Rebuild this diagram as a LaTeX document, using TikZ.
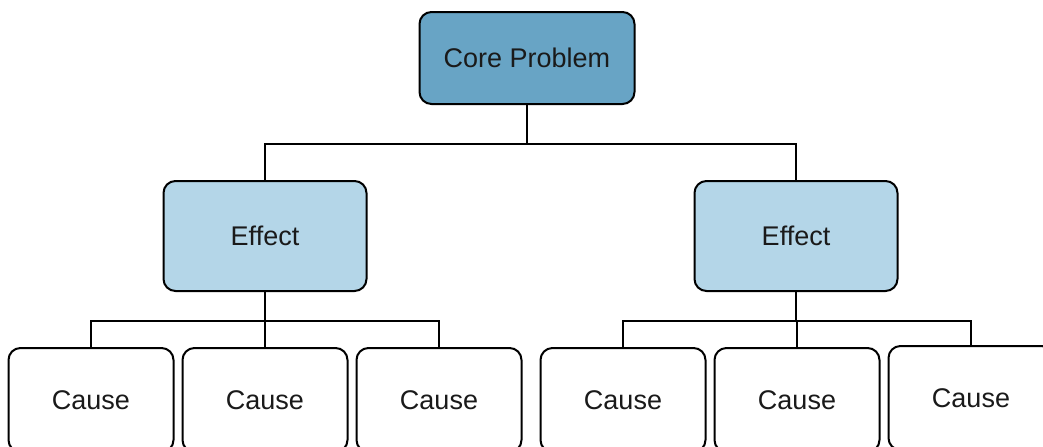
\documentclass[tikz,border=0pt]{standalone}
\usepackage{fontspec}
\setmainfont{Liberation Sans}
\usetikzlibrary{positioning}
\definecolor{corecolor}{RGB}{104, 164, 197}
\definecolor{effectcolor}{RGB}{180, 214, 232}
\definecolor{textcolor}{RGB}{26, 26, 26}

\begin{document}
\begin{tikzpicture}[x=0.5pt,y=-0.5pt,
    box/.style={draw,line width=1pt,rounded corners=6pt,align=center,
        text=textcolor,font=\fontsize{13.5}{16}\selectfont},
    corebox/.style={box,fill=corecolor,minimum width=107.5pt,minimum height=46pt},
    effectbox/.style={box,fill=effectcolor,minimum width=101.5pt,minimum height=55pt},
    causebox/.style={box,fill=white,minimum width=82.5pt,minimum height=52pt},
    link/.style={line width=1pt}]
    \useasboundingbox (0,0) rectangle (1043,446);
    \clip (0,0) rectangle (1043,446);
    \node[corebox] (core) at (527,58) {Core Problem};
    \node[effectbox] (effL) at (265,236) {Effect};
    \node[effectbox] (effR) at (796,236) {Effect};
    \node[causebox] (c1) at (91,400) {Cause};
    \node[causebox] (c2) at (265,400) {Cause};
    \node[causebox] (c3) at (439,400) {Cause};
    \node[causebox] (c4) at (623,400) {Cause};
    \node[causebox] (c5) at (797,400) {Cause};
    \node[causebox] (c6) at (971,398) {Cause};
    % core to effects
    \draw[link] (core.south) -- ++(0,39) -| (effL.north);
    \draw[link] (core.south) -- ++(0,39) -| (effR.north);
    % effects to causes
    \foreach \c in {c1,c2,c3}
        \draw[link] (effL.south) -- ++(0,29) -| (\c.north);
    \foreach \c in {c4,c5,c6}
        \draw[link] (effR.south) -- ++(0,29) -| (\c.north);
\end{tikzpicture}
\end{document}
